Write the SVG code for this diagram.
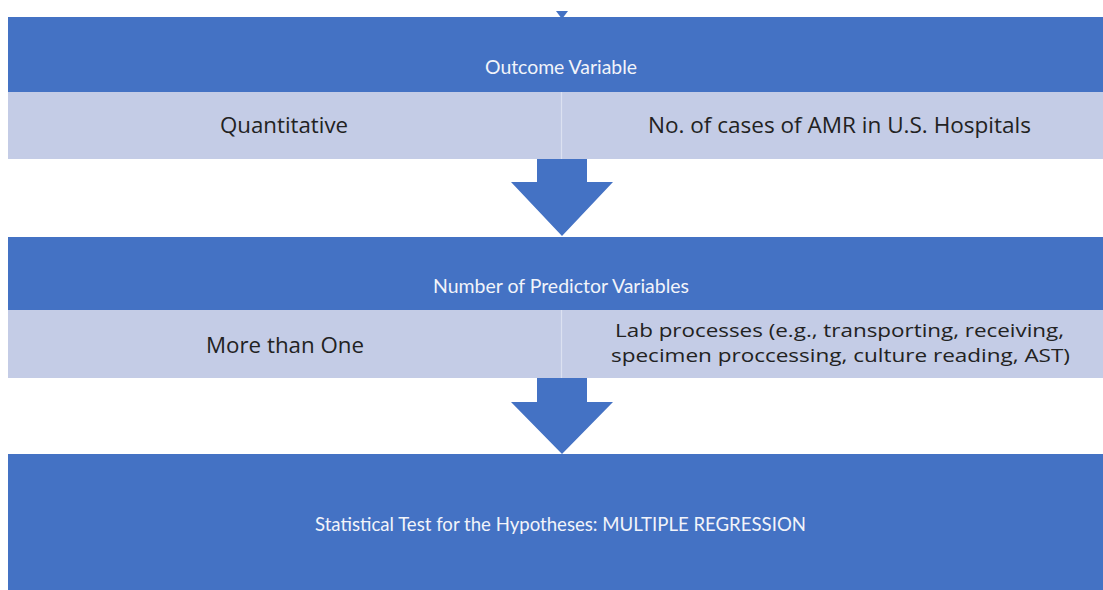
<svg xmlns="http://www.w3.org/2000/svg" width="1103" height="590" viewBox="0 0 1103 590">
<style>
.dark{fill:#4472C4}
.light{fill:#C4CCE6}
.div{stroke:#DCE1F1;stroke-width:1.2}
.hdr{font-family:Lato,"Open Sans","Liberation Sans",sans-serif;font-size:19px;fill:#F2F4FA}
.cell{font-family:"Open Sans","Liberation Sans",sans-serif;font-size:22px;fill:#222}
.cell2{font-family:"Open Sans","Liberation Sans",sans-serif;font-size:18px;fill:#222}
.arr{fill:#4472C4}
</style>
<rect width="1103" height="590" fill="#FFFFFF"/>
<g id="outcome">
<rect class="dark" x="8" y="17" width="1100" height="75"/>
<rect class="light" x="8" y="92" width="1100" height="67"/>
<line class="div" x1="561.5" y1="92" x2="561.5" y2="159"/>
<text class="hdr" x="485" y="74" textLength="152" lengthAdjust="spacingAndGlyphs">Outcome Variable</text>
<text class="cell" x="220" y="133" textLength="128" lengthAdjust="spacingAndGlyphs">Quantitative</text>
<text class="cell" x="648" y="133" textLength="383" lengthAdjust="spacingAndGlyphs">No. of cases of AMR in U.S. Hospitals</text>
</g>
<g id="predictors">
<rect class="dark" x="8" y="237" width="1100" height="73"/>
<rect class="light" x="8" y="310" width="1100" height="68"/>
<line class="div" x1="561.5" y1="310" x2="561.5" y2="378"/>
<text class="hdr" x="433" y="293" textLength="256" lengthAdjust="spacingAndGlyphs">Number of Predictor Variables</text>
<text class="cell" x="206" y="353" textLength="158" lengthAdjust="spacingAndGlyphs">More than One</text>
<text class="cell2" x="615" y="337" textLength="449" lengthAdjust="spacingAndGlyphs">Lab processes (e.g., transporting, receiving,</text>
<text class="cell2" x="611" y="362" textLength="459" lengthAdjust="spacingAndGlyphs">specimen proccessing, culture reading, AST)</text>
</g>
<g id="test">
<rect class="dark" x="8" y="454" width="1100" height="140"/>
<text class="hdr" x="315" y="531" textLength="491" lengthAdjust="spacingAndGlyphs">Statistical Test for the Hypotheses: MULTIPLE REGRESSION</text>
</g>
<g id="connectors">
<polygon class="arr" points="556,11 568,11 562,19"/>
<polygon class="arr" points="537,159 587,159 587,182 613,182 562,236 511,182 537,182"/>
<polygon class="arr" points="537,378 587,378 587,402 613,402 562,454 511,402 537,402"/>
</g>
</svg>
